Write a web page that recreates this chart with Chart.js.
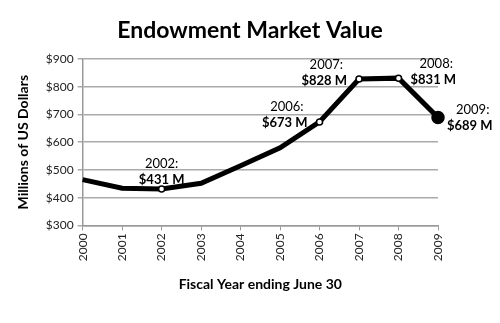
<!DOCTYPE html>
<html>
<head>
<meta charset="utf-8">
<script src="https://cdn.jsdelivr.net/npm/chart.js@4/dist/chart.umd.min.js"></script>
<style>
  html, body { margin: 0; padding: 0; background: #fff; }
  #wrap { width: 500px; height: 323px; }
</style>
</head>
<body>
<div id="wrap"><canvas id="chart"></canvas></div>
<script>
// data
const years = ['2000', '2001', '2002', '2003', '2004', '2005', '2006', '2007', '2008', '2009'];
const marketValue = [465, 434, 431, 452, 515, 580, 673, 828, 831, 689];
const labelledYears = ['2002', '2006', '2007', '2008', '2009'];
const yTicks = [300, 400, 500, 600, 700, 800, 900];
const chartTitle = 'Endowment Market Value';

const FONT = 'Lato, "DejaVu Sans", sans-serif';

// where each label sits relative to its point (dx, dy, align)
const labelPlace = {
    '2002': { dx: 0, dy: -25, align: 'center' },
    '2006': { dx: -12, dy: -15, align: 'right' },
    '2007': { dx: -12, dy: -14, align: 'right' },
    '2008': { dx: 12, dy: -14, align: 'left' },
    '2009': { dx: 9, dy: -8, align: 'left' }
};

// title centred on the whole canvas, not on the padded area
const pageTitle = {
    id: 'pageTitle',
    afterDraw(chart) {
        const ctx = chart.ctx;
        ctx.save();
        ctx.fillStyle = '#000';
        ctx.font = 'bold 23px ' + FONT;
        ctx.textAlign = 'center';
        ctx.textBaseline = 'middle';
        ctx.fillText(chartTitle, chart.width / 2, 31);
        ctx.restore();
    }
};

// draw "year:" / "$xxx M" next to the chosen points
const valueLabels = {
    id: 'valueLabels',
    afterDatasetsDraw(chart) {
        const ctx = chart.ctx;
        const meta = chart.getDatasetMeta(0);
        ctx.save();
        ctx.fillStyle = '#000';
        ctx.textBaseline = 'middle';
        labelledYears.forEach(y => {
            const i = years.indexOf(y);
            const pt = meta.data[i];
            const p = labelPlace[y];
            ctx.textAlign = p.align;
            ctx.font = '13px ' + FONT;
            ctx.fillText(y + ':', pt.x + p.dx + (p.align === 'center' ? 0 : (p.align === 'right' ? -4 : 9)), pt.y + p.dy);
            ctx.font = 'bold 13px ' + FONT;
            ctx.fillText('$' + marketValue[i] + ' M', pt.x + p.dx, pt.y + p.dy + 16);
        });
        ctx.restore();
    }
};

const radii = years.map(y => y === '2009' ? 6 : (labelledYears.includes(y) ? 3 : 0));
const fills = years.map(y => y === '2009' ? '#000' : '#fff');

new Chart(document.getElementById('chart'), {
    type: 'line',
    data: {
        labels: years,
        datasets: [{
            data: marketValue,
            borderColor: '#000',
            borderWidth: 5,
            tension: 0,
            pointRadius: radii,
            pointBackgroundColor: fills,
            pointBorderColor: '#000',
            pointBorderWidth: 1.5,
            clip: false
        }]
    },
    options: {
        responsive: true,
        maintainAspectRatio: false,
        animation: false,
        layout: { padding: { left: 11, right: 62, top: 59, bottom: 26 } },
        plugins: {
            legend: { display: false },
            tooltip: { enabled: false },
            title: { display: false }
        },
        scales: {
            x: {
                offset: false,
                grid: { display: true, drawOnChartArea: false, drawTicks: true, tickLength: 5, color: '#999' },
                border: { color: '#999', width: 1.5 },
                ticks: { color: '#222', font: { family: FONT, size: 12 }, maxRotation: 90, minRotation: 90, padding: 3 },
                title: {
                    display: true,
                    text: 'Fiscal Year ending June 30',
                    color: '#000',
                    font: { family: FONT, size: 14, weight: 'bold' },
                    padding: { top: 12 }
                }
            },
            y: {
                min: yTicks[0],
                max: yTicks[yTicks.length - 1],
                afterBuildTicks: axis => { axis.ticks = yTicks.map(v => ({ value: v })); },
                grid: { color: '#aaa', lineWidth: 1.5, tickLength: 5 },
                border: { color: '#999', width: 1.5 },
                ticks: { color: '#222', font: { family: FONT, size: 12 }, callback: v => '$' + v, padding: 4 },
                title: {
                    display: true,
                    text: 'Millions of US Dollars',
                    color: '#000',
                    font: { family: FONT, size: 14, weight: 'bold' },
                    padding: { bottom: 10 }
                }
            }
        }
    },
    plugins: [valueLabels, pageTitle]
});
</script>
</body>
</html>
